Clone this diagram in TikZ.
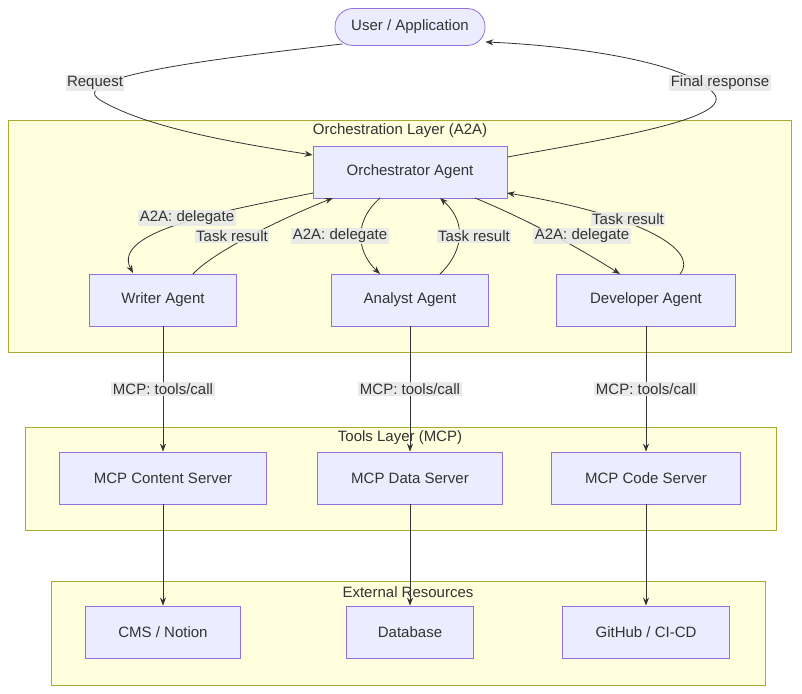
\documentclass[tikz,border=0pt]{standalone}
\usepackage{fontspec}
\setmainfont{Liberation Sans}
\usetikzlibrary{arrows.meta}
\definecolor{nfill}{HTML}{ECECFF}
\definecolor{nline}{HTML}{9370DB}
\definecolor{cfill}{HTML}{FFFFDE}
\definecolor{cline}{HTML}{AAAA33}
\definecolor{ed}{HTML}{333333}
\definecolor{lbg}{HTML}{E8E8E8}
\begin{document}
\begin{tikzpicture}[x=1pt,y=-1pt,
  font=\fontsize{15}{18}\selectfont, text=ed,
  box/.style={draw=nline,fill=nfill,line width=0.8pt,minimum height=52pt,inner sep=0pt},
  clus/.style={draw=cline,fill=cfill,line width=0.8pt},
  ar/.style={draw=ed,line width=0.8pt,-{Stealth[length=8pt,width=6pt]}},
  lab/.style={fill=lbg,fill opacity=0.9,text opacity=1,inner sep=1.5pt}]
\useasboundingbox (0,0) rectangle (802,693);
\fill[white] (0,0) rectangle (802,693);
\draw[clus] (8,120) rectangle (791,352);
\node at (400,131) {Orchestration Layer (A2A)};
\draw[clus] (25,427) rectangle (776,530);
\node at (400,438) {Tools Layer (MCP)};
\draw[clus] (51,581) rectangle (765,685);
\node at (408,592) {External Resources};

\node[box,rounded corners=18pt,minimum width=150pt,minimum height=37pt] (user) at (410,27) {User / Application};
\node[box,minimum width=194pt] (orch) at (410,172) {Orchestrator Agent};
\node[box,minimum width=147pt] (wr) at (163,300) {Writer Agent};
\node[box,minimum width=157pt] (an) at (410,300) {Analyst Agent};
\node[box,minimum width=179pt] (dev) at (646,300) {Developer Agent};
\node[box,minimum width=207pt] (mc) at (163,478) {MCP Content Server};
\node[box,minimum width=185pt] (md) at (410,478) {MCP Data Server};
\node[box,minimum width=189pt] (mk) at (646,478) {MCP Code Server};
\node[box,minimum width=155pt] (cms) at (163,632) {CMS / Notion};
\node[box,minimum width=127pt] (db) at (410,632) {Database};
\node[box,minimum width=167pt] (gh) at (646,632) {GitHub / CI-CD};

\draw[ar] (user.south west)++(8,-2) .. controls (250,55) and (60,75) .. (100,100) .. controls (150,130) and (250,145) .. (orch.north west|-0,155);
\node[lab] at (95,83) {Request};
\draw[ar] (orch.east|-0,157) .. controls (600,140) and (730,120) .. (715,95) .. controls (690,60) and (560,45) .. (user.east|-0,42);
\node[lab] at (720,83) {Final response};

\draw[ar] (313,193) .. controls (230,210) and (110,230) .. (133,273);
\node[lab] at (187,218) {A2A: delegate};
\draw[ar] (193,274) .. controls (215,250) and (290,215) .. (333,198);
\node[lab] at (232,236) {Task result};
\draw[ar] (380,198) .. controls (350,225) and (360,255) .. (380,274);
\node[lab] at (340,236) {A2A: delegate};
\draw[ar] (440,274) .. controls (460,255) and (470,225) .. (440,198);
\node[lab] at (474,236) {Task result};
\draw[ar] (475,198) .. controls (540,225) and (590,255) .. (620,274);
\node[lab] at (582,236) {A2A: delegate};
\draw[ar] (680,274) .. controls (700,250) and (640,215) .. (507,193);
\node[lab] at (628,219) {Task result};

\draw[ar] (wr) -- (mc);
\node[lab] at (163,389) {MCP: tools/call};
\draw[ar] (an) -- (md);
\node[lab] at (410,389) {MCP: tools/call};
\draw[ar] (dev) -- (mk);
\node[lab] at (646,389) {MCP: tools/call};
\draw[ar] (mc) -- (cms);
\draw[ar] (md) -- (db);
\draw[ar] (mk) -- (gh);
\end{tikzpicture}
\end{document}
